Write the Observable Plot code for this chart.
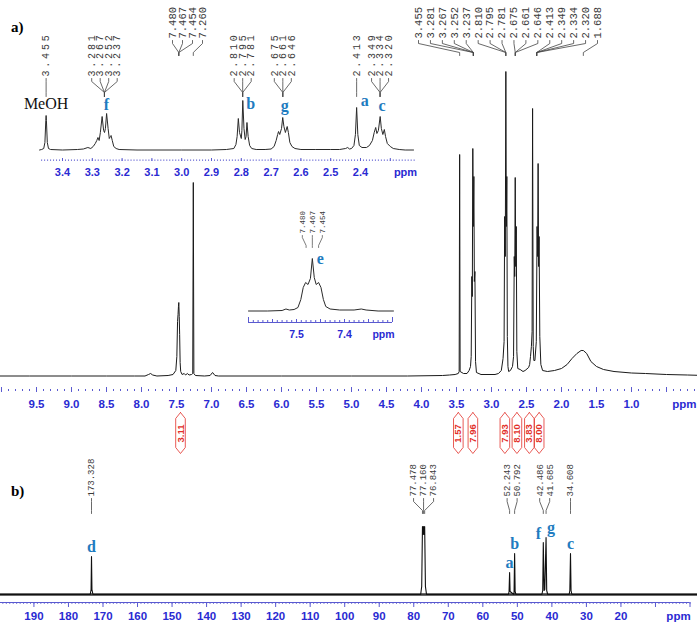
<!DOCTYPE html>
<html><head><meta charset="utf-8">
<script src="https://cdn.jsdelivr.net/npm/d3@7"></script>
<script src="https://cdn.jsdelivr.net/npm/@observablehq/plot@0.6"></script>
<style>
body{margin:0;background:#fff;}
#fig{position:relative;width:697px;height:626px;overflow:hidden;background:#fff;}
#fig svg{position:absolute;left:0;top:0;}
.panel{position:absolute;font-family:'Liberation Serif','Times New Roman',serif;font-weight:bold;font-size:15px;line-height:1;color:#000;}
</style></head><body>
<div id="fig">
<div class="panel" style="left:11px;top:20px">a)</div>
<div class="panel" style="left:11px;top:484px">b)</div>
</div>
<script>
// ---------------- DATA ----------------
const h1TickLabels = [9.5, 9.0, 8.5, 8.0, 7.5, 7.0, 6.5, 6.0, 5.5, 5.0, 4.5, 4.0, 3.5, 3.0, 2.5, 2.0, 1.5, 1.0];
const inset1TickLabels = [3.4, 3.3, 3.2, 3.1, 3.0, 2.9, 2.8, 2.7, 2.6, 2.5, 2.4];
const inset2TickLabels = [7.5, 7.4];
const c13TickLabels = [190, 180, 170, 160, 150, 140, 130, 120, 110, 100, 90, 80, 70, 60, 50, 40, 30, 20];

// 1H spectrum trace: [ppm, intensity]
const h1Trace = [
 [10.05,0.5],[9.6,0.5],[9.0,0.5],[8.5,0.5],[8.1,0.5],[7.95,0.5],[7.9,2],[7.87,3],[7.84,1.5],[7.78,0.5],
 [7.62,1],[7.55,2],[7.51,6],[7.495,20],[7.485,55],[7.478,62],[7.472,70],[7.467,74],[7.461,60],[7.455,42],[7.448,14],[7.44,5],[7.42,2],
 [7.39,3],[7.37,1.5],[7.345,3],[7.32,1.5],[7.285,2],[7.268,3],[7.260,194],[7.252,3],[7.23,1],[7.1,0.5],[7.02,1],[6.985,4],[6.95,1],[6.9,0.5],
 [6.0,0.5],[5.0,0.5],[4.2,0.5],[3.7,1],[3.6,1.5],[3.52,2],[3.475,3],[3.462,5],[3.455,222],[3.448,5],
 [3.40,3],[3.35,3],[3.32,6],[3.30,10],[3.29,20],[3.281,100],[3.274,80],[3.267,228],[3.26,150],[3.252,200],[3.245,95],[3.237,105],[3.228,15],[3.215,4],
 [3.15,2],[3.05,2],[2.95,2],[2.9,3],[2.86,6],[2.835,18],[2.82,35],[2.812,160],[2.803,120],[2.795,305],[2.788,150],[2.781,200],[2.774,40],[2.765,10],[2.755,5],
 [2.73,6],[2.70,10],[2.685,20],[2.675,120],[2.668,100],[2.661,199],[2.654,110],[2.646,150],[2.638,25],[2.625,8],
 [2.59,7],[2.55,5],[2.52,6],[2.47,9],[2.455,12],[2.443,20],[2.43,30],[2.42,45],[2.413,268],[2.404,30],[2.395,16],[2.38,16],[2.36,35],[2.349,150],[2.341,120],[2.334,213],[2.327,110],[2.320,140],[2.31,40],[2.295,12],[2.27,6],
 [2.2,5],[2.1,6],[2.0,8],[1.92,12],[1.85,18],[1.78,23],[1.72,26],[1.688,26],[1.64,23],[1.58,15],[1.5,10],[1.4,7],[1.25,5],[1.0,3.5],[0.8,3],[0.5,2],[0.2,1.5],[-0.05,1]
];

// expansion 3.48-2.22 ppm: [ppm, intensity]
const inset1Trace = [
 [3.477,0.5],[3.47,1],[3.463,2],[3.459,8],[3.456,30],[3.455,35],[3.454,30],[3.451,8],[3.447,2],[3.44,1],
 [3.40,0.5],[3.35,1],[3.33,1.5],[3.315,3],[3.305,2],[3.297,4],[3.29,7],[3.285,10],[3.281,13],[3.277,10],[3.273,18],[3.267,34],[3.262,20],[3.259,18],[3.256,22],[3.252,37],[3.247,22],[3.243,12],[3.239,14],[3.237,15],[3.233,10],[3.228,4],[3.22,2],[3.21,1],
 [3.15,0.5],[3.0,0.5],[2.9,0.5],[2.85,1],[2.825,2],[2.818,6],[2.814,14],[2.81,32],[2.806,18],[2.80,12],[2.798,20],[2.795,50],[2.791,22],[2.787,11],[2.784,14],[2.781,28],[2.777,14],[2.772,5],[2.765,2],[2.75,1],
 [2.72,1],[2.70,1.5],[2.69,4],[2.683,10],[2.678,16],[2.675,19],[2.671,16],[2.665,22],[2.661,33],[2.657,24],[2.652,18],[2.646,24],[2.642,18],[2.637,8],[2.63,4],[2.62,2],[2.60,1],
 [2.55,1],[2.50,1],[2.47,1],[2.45,2],[2.443,3],[2.437,1.5],[2.43,2],[2.422,5],[2.417,16],[2.413,43],[2.409,16],[2.404,5],[2.395,3],[2.38,3],[2.37,5],[2.36,10],[2.354,18],[2.349,23],[2.345,17],[2.34,20],[2.334,34],[2.33,22],[2.325,16],[2.32,21],[2.316,14],[2.31,7],[2.30,4],[2.29,2],[2.27,1],[2.25,0.5],[2.222,0.5]
];

// expansion 7.60-7.30 ppm (signal e)
const inset2Trace = [
 [7.60,0.5],[7.56,0.5],[7.53,1],[7.522,2.5],[7.515,1.5],[7.505,2],[7.497,4],[7.491,12],[7.486,24],[7.481,29],[7.476,27],[7.471,33],[7.467,53],
 [7.463,34],[7.459,27],[7.454,29],[7.449,24],[7.444,12],[7.439,5],[7.43,2.5],[7.41,1.5],[7.38,1.5],[7.365,2.5],[7.355,1.5],[7.33,0.5],[7.298,0.5]
];

// 13C spectrum trace
const c13Trace = [
 [200,0],[173.7,0],[173.45,5],[173.328,38],[173.2,5],[172.9,0],
 [78.0,0],[77.7,8],[77.478,68],[77.32,60],[77.16,68],[77.0,60],[76.843,68],[76.62,8],[76.3,0],
 [52.6,0],[52.4,3],[52.243,22],[52.1,3],[51.0,0],[50.95,3],[50.792,41],[50.64,3],[50.4,0],
 [42.9,0],[42.65,4],[42.486,52],[42.25,4],[42.05,5],[41.685,57],[41.5,4],[41.2,0],
 [35.0,0],[34.8,4],[34.608,41],[34.45,4],[34.2,0],[-3,0]
];

const integrals = [
 {ppm: 7.443, value: "3.11"}, {ppm: 3.474, value: "1.57"}, {ppm: 3.266, value: "7.96"},
 {ppm: 2.809, value: "7.93"}, {ppm: 2.637, value: "8.10"}, {ppm: 2.459, value: "3.83"}, {ppm: 2.319, value: "8.00"}
];

const h1LabelGroupsLeft = [[7.480, 7.467, 7.454], [7.260]];
const h1LabelGroupsRight = [[3.455], [3.281, 3.267, 3.252, 3.237], [2.810, 2.795, 2.781], [2.675, 2.661, 2.646], [2.413, 2.349, 2.334, 2.320], [1.688]];
const inset1LabelGroups = [[3.455], [3.281, 3.267, 3.252, 3.237], [2.810, 2.795, 2.781], [2.675, 2.661, 2.646], [2.413], [2.349, 2.334, 2.320]];
const inset2LabelGroups = [[7.480, 7.467, 7.454]];
const c13LabelGroups = [[173.328], [77.478, 77.160, 76.843], [52.243, 50.792], [42.486, 41.685], [34.608]];

const h1Letters = [{t: "f", ppm: 3.259, h: 46}, {t: "g", ppm: 2.661, h: 45}, {t: "c", ppm: 2.334, h: 45}];
const h1LettersSide = [{t: "b", ppm: 2.795, h: 47}, {t: "a", ppm: 2.413, h: 50}];
const solvent = [{t: "MeOH", ppm: 3.455, h: 47}];
const eLetter = [{t: "e", ppm: 7.467, h: 53}];
const c13Letters = [{t: "d", ppm: 173.328, h: 38}, {t: "a", ppm: 52.243, h: 22}, {t: "b", ppm: 50.792, h: 41}, {t: "c", ppm: 34.608, h: 41}];
const c13LetterF = [{t: "f", ppm: 42.486, h: 52}];
const c13LetterG = [{t: "g", ppm: 41.685, h: 57}];

// ---------------- STYLE ----------------
const W = 697, H = 626;
const BLUE = "#2a2ad2", TICK = "#5a5ad0", RED = "#e2302a", LETTER = "#1f7cc0";
const SANS = "'Liberation Sans Narrow','Arial Narrow','Liberation Sans',Arial,sans-serif";
const MONO = "'Liberation Mono','DejaVu Sans Mono',monospace";
const SERIF = "'Liberation Serif','Times New Roman',serif";
const base = {width: W, height: H, margin: 0, style: {background: "transparent", overflow: "visible"}};

function peakLabels(groups, xs, place, toCenter) {
  const labels = [], links = [];
  let k = 0;
  groups.forEach(g => {
    const c = d3.mean(g, v => xs(v));
    g.forEach((v, j) => {
      const lx = place(k, j, g.length, c);
      const ex = toCenter ? c : xs(v);
      labels.push({x: xs.invert(lx), text: v.toFixed(3)});
      links.push({id: k, lx: xs.invert(lx), ex: xs.invert(ex)});
      k++;
    });
  });
  return {labels, links};
}
function connectors(links, ys) {
  return links.flatMap(l => [
    {id: l.id, x: l.lx, y: ys[0]}, {id: l.id, x: l.lx, y: ys[1]},
    {id: l.id, x: l.ex, y: ys[2]}, {id: l.id, x: l.ex, y: ys[3]}]);
}
const even = (a, b, n) => k => a + k * (b - a) / (n - 1);
const around = step => (k, j, n, c) => c + (j - (n - 1) / 2) * step;
const fig = document.getElementById("fig");

// ---------------- MAIN 1H ----------------
{
  const xd = [9.5, 1.0], xr = [36, 631];
  const xs = d3.scaleLinear(xd, xr);
  const L = peakLabels(h1LabelGroupsLeft, xs, even(172, 202, 4), true);
  const R = peakLabels(h1LabelGroupsRight, xs, even(418, 597, 16), true);
  const labels = L.labels.concat(R.labels);
  const links = L.links.concat(R.links.map(l => ({...l, id: l.id + 100})));
  const hw = 4.8 / 70;
  const brackets = integrals.flatMap((d, i) => [[0, -36], [hw, -42], [hw, -71], [0, -77], [-hw, -71], [-hw, -42], [0, -36]]
    .map(([dx, y]) => ({id: i, x: d.ppm + dx, y})));
  const minor = d3.range(0, 101).map(i => i / 10);
  const svg = Plot.plot({
    ...base,
    x: {domain: xd, range: xr, axis: null},
    y: {domain: [0, 305], range: [376, 71], axis: null},
    marks: [
      Plot.ruleX(minor, {x: d => d, y1: -13, y2: -15, stroke: TICK, strokeWidth: 1}),
      Plot.ruleX(minor.filter((d, i) => i % 5 === 0), {x: d => d, y1: -11, y2: -16, stroke: TICK, strokeWidth: 1}),
      Plot.text(h1TickLabels, {x: d => d, y: -28, text: d => d.toFixed(1), fill: BLUE, fontFamily: SANS, fontWeight: "bold", fontSize: 11.5}),
      Plot.text(["ppm"], {x: xs.invert(696), y: -28, text: d => d, textAnchor: "end", fill: BLUE, fontFamily: SANS, fontWeight: "bold", fontSize: 11.5}),
      Plot.line(brackets, {x: "x", y: "y", z: "id", stroke: RED, strokeWidth: 0.8}),
      Plot.text(integrals, {x: "ppm", y: -57, text: "value", rotate: -90, fill: RED, fontFamily: SANS, fontWeight: "bold", fontSize: 9.5}),
      Plot.line(h1Trace, {x: d => d[0], y: d => d[1], stroke: "#1a1a1a", strokeWidth: 1}),
      Plot.text(labels, {x: "x", y: 338, text: "text", rotate: -90, textAnchor: "start", fill: "#3a3a3a", fontFamily: MONO, fontSize: 10.5}),
      Plot.line(connectors(links, [336, 333, 324, 321]), {x: "x", y: "y", z: "id", stroke: "#444", strokeWidth: 0.8})
    ]
  });
  fig.append(svg);
}

// ---------------- INSET 1 (3.5-2.2 ppm) ----------------
{
  const xd = [3.4, 2.4], xr = [62, 360];
  const xs = d3.scaleLinear(xd, xr);
  const P = peakLabels(inset1LabelGroups, xs, around(8.5), true);
  const minor = d3.range(222, 348).map(i => i / 100);
  const svg = Plot.plot({
    ...base,
    x: {domain: xd, range: xr, axis: null},
    y: {domain: [0, 50], range: [150, 100], axis: null},
    marks: [
      Plot.ruleX(minor, {x: d => d, y1: -9.5, y2: -10.8, stroke: TICK, strokeWidth: 1}),
      Plot.ruleX(minor.filter(d => Math.round(d * 100) % 10 === 0), {x: d => d, y1: -8, y2: -11, stroke: TICK, strokeWidth: 1}),
      Plot.text(inset1TickLabels, {x: d => d, y: -22, text: d => d.toFixed(1), fill: BLUE, fontFamily: SANS, fontWeight: "bold", fontSize: 11}),
      Plot.text(["ppm"], {x: xs.invert(405), y: -22, text: d => d, fill: BLUE, fontFamily: SANS, fontWeight: "bold", fontSize: 11}),
      Plot.line(inset1Trace, {x: d => d[0], y: d => d[1], stroke: "#2a2a2a", strokeWidth: 1}),
      Plot.text(P.labels, {x: "x", y: 74, text: "text", rotate: -90, textAnchor: "start", fill: "#3a3a3a", fontFamily: MONO, fontSize: 10}),
      Plot.line(connectors(P.links, [72, 69, 58, 54]), {x: "x", y: "y", z: "id", stroke: "#444", strokeWidth: 0.8}),
      Plot.text(solvent, {x: "ppm", y: "h", text: "t", fill: "#111", fontFamily: SERIF, fontSize: 16}),
      Plot.text(h1Letters, {x: "ppm", y: "h", text: "t", dx: 2, fill: LETTER, fontFamily: SERIF, fontWeight: "bold", fontSize: 16}),
      Plot.text(h1LettersSide, {x: "ppm", y: "h", text: "t", dx: 8, fill: LETTER, fontFamily: SERIF, fontWeight: "bold", fontSize: 16})
    ]
  });
  d3.select(svg).selectAll("text").filter(function () { return /^\d\.\d{3}$/.test(this.textContent); }).attr("letter-spacing", 2.8);
  fig.append(svg);
}

// ---------------- INSET 2 (signal e) ----------------
{
  const xd = [7.5, 7.4], xr = [296, 344];
  const xs = d3.scaleLinear(xd, xr);
  const P = peakLabels(inset2LabelGroups, xs, around(10), false);
  const minor = d3.range(730, 761).map(i => i / 100);
  const svg = Plot.plot({
    ...base,
    x: {domain: xd, range: xr, axis: null},
    y: {domain: [0, 53], range: [311, 258], axis: null},
    marks: [
      Plot.ruleY([-11], {x1: minor[0], x2: minor[minor.length - 1], stroke: TICK, strokeWidth: 1}),
      Plot.ruleX(minor, {x: d => d, y1: -11, y2: -9, stroke: TICK, strokeWidth: 1}),
      Plot.ruleX(minor.filter(d => Math.round(d * 100) % 5 === 0), {x: d => d, y1: -11, y2: -8, stroke: TICK, strokeWidth: 1}),
      Plot.ruleX([minor[0], minor[minor.length - 1]], {x: d => d, y1: -11, y2: -6, stroke: TICK, strokeWidth: 1}),
      Plot.text(inset2TickLabels, {x: d => d, y: -23, text: d => d.toFixed(1), fill: BLUE, fontFamily: SANS, fontWeight: "bold", fontSize: 10.5}),
      Plot.text(["ppm"], {x: xs.invert(383), y: -23, text: d => d, fill: BLUE, fontFamily: SANS, fontWeight: "bold", fontSize: 10.5}),
      Plot.line(inset2Trace, {x: d => d[0], y: d => d[1], stroke: "#2a2a2a", strokeWidth: 1}),
      Plot.text(P.labels, {x: "x", y: 78, text: "text", rotate: -90, textAnchor: "start", fill: "#3a3a3a", fontFamily: MONO, fontSize: 7.5}),
      Plot.line(connectors(P.links, [76, 74, 66, 64]), {x: "x", y: "y", z: "id", stroke: "#444", strokeWidth: 0.7}),
      Plot.text(eLetter, {x: "ppm", y: "h", text: "t", dx: 8, fill: LETTER, fontFamily: SERIF, fontWeight: "bold", fontSize: 16})
    ]
  });
  fig.append(svg);
}

// ---------------- 13C ----------------
{
  const xd = [173.328, 34.608], xr = [91, 570];
  const xs = d3.scaleLinear(xd, xr);
  const P = peakLabels(c13LabelGroups, xs, around(10), false);
  const minor = d3.range(0, 201);
  const svg = Plot.plot({
    ...base,
    x: {domain: xd, range: xr, axis: null},
    y: {domain: [0, 68], range: [594, 526], axis: null},
    marks: [
      Plot.ruleY([0], {stroke: "#3a3a3a", strokeWidth: 2.4}),
      Plot.line(c13Trace, {x: d => d[0], y: d => d[1], stroke: "#111", strokeWidth: 1.1}),
      Plot.ruleY([-8], {x1: minor[minor.length - 1], x2: minor[0], stroke: TICK, strokeWidth: 1}),
      Plot.ruleX(minor, {x: d => d, y1: -8, y2: -10, stroke: TICK, strokeWidth: 0.8}),
      Plot.ruleX(minor.filter(d => d % 10 === 0), {x: d => d, y1: -8, y2: -13, stroke: TICK, strokeWidth: 1}),
      Plot.text(c13TickLabels, {x: d => d, y: -22, text: d => String(d), fill: BLUE, fontFamily: SANS, fontWeight: "bold", fontSize: 11.5}),
      Plot.text(["ppm"], {x: xs.invert(678), y: -22, text: d => d, fill: BLUE, fontFamily: SANS, fontWeight: "bold", fontSize: 11.5}),
      Plot.text(P.labels, {x: "x", y: 98, text: "text", rotate: -90, textAnchor: "start", fill: "#3a3a3a", fontFamily: MONO, fontSize: 9}),
      Plot.line(connectors(P.links, [96, 93, 84, 81]), {x: "x", y: "y", z: "id", stroke: "#444", strokeWidth: 0.8}),
      Plot.text(c13Letters, {x: "ppm", y: "h", text: "t", dy: -10, fill: LETTER, fontFamily: SERIF, fontWeight: "bold", fontSize: 16}),
      Plot.text(c13LetterF, {x: "ppm", y: "h", text: "t", dx: -5, dy: -9, fill: LETTER, fontFamily: SERIF, fontWeight: "bold", fontSize: 16}),
      Plot.text(c13LetterG, {x: "ppm", y: "h", text: "t", dx: 5, dy: -10, fill: LETTER, fontFamily: SERIF, fontWeight: "bold", fontSize: 16})
    ]
  });
  fig.append(svg);
}
</script></body></html>
